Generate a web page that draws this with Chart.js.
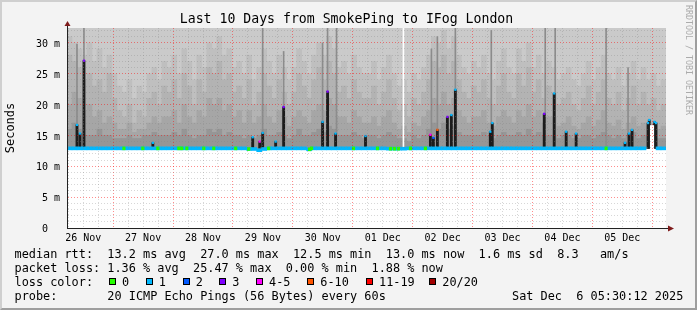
<!DOCTYPE html>
<html>
<head>
<meta charset="utf-8">
<script src="https://cdn.jsdelivr.net/npm/chart.js@4.4.1/dist/chart.umd.min.js"></script>
<style>
  html, body { margin: 0; padding: 0; background: #f3f3f3; }
  #wrap { position: relative; width: 697px; height: 310px; background: #f3f3f3; overflow: hidden;
          font-family: "DejaVu Sans Mono", monospace; color: #000; }
  #wrap canvas { position: absolute; left: 0; top: 0; }
  #frame { position: absolute; left: 0; top: 0; width: 697px; height: 310px; box-sizing: border-box;
           border-top: 2px solid #cfcfcf; border-left: 2px solid #cfcfcf;
           border-right: 2px solid #9e9e9e; border-bottom: 2px solid #9e9e9e; pointer-events: none; }
  #title { position: absolute; left: 0; width: 693px; top: 11px; text-align: center;
           font-size: 13.2px; line-height: 16px; white-space: pre; }
  #side { position: absolute; left: 684px; top: 5px; writing-mode: vertical-rl; font-size: 8.3px;
          line-height: 9px; color: #ababab; white-space: pre; }
  .row { position: absolute; left: 14.5px; height: 14px; font-size: 11.86px; line-height: 14px; white-space: pre; }
  .abs { position: absolute; font-size: 11.86px; line-height: 14px; white-space: pre; }
  .box { position: absolute; width: 5px; height: 5px; border: 1px solid #000; }
</style>
</head>
<body>
<div id="wrap">
  <canvas id="smoke" width="697" height="310"></canvas>
  <div id="title">Last 10 Days from SmokePing to IFog London</div>
  <div id="side">RRDTOOL / TOBI OETIKER</div>
  <div class="row" style="top:247px">median rtt:  13.2 ms avg  27.0 ms max  12.5 ms min  13.0 ms now  1.6 ms sd  8.3   am/s</div>
  <div class="row" style="top:261px">packet loss: 1.36 % avg  25.47 % max  0.00 % min  1.88 % now</div>
  <div class="row" style="top:275px">loss color:</div>
  <div id="lossLegend"></div>
  <div class="row" style="top:289px">probe:       20 ICMP Echo Pings (56 Bytes) every 60s</div>
  <div class="abs" style="top:289px;left:512px">Sat Dec  6 05:30:12 2025</div>
  <div id="frame"></div>
</div>
<script>
// time axis: hours since Nov 26 05:30, 240 h shown; smoke bins are 2 h wide
const dayLabels = ['26 Nov', '27 Nov', '28 Nov', '29 Nov', '30 Nov', '01 Dec', '02 Dec', '03 Dec', '04 Dec', '05 Dec'];
const firstNoon = 6.5;      // hour of Nov 26 12:00
const firstMidnight = 18.5; // hour of Nov 27 00:00

const yTickValues = [0, 5, 10, 15, 20, 25, 30];
const yTickLabels = ['0  ', '5 m', '10 m', '15 m', '20 m', '25 m', '30 m'];

const lossLabels = ['0', '1', '2', '3', '4-5', '6-10', '11-19', '20/20'];
const lossColors = ['#26ff00', '#00b8ff', '#0059ff', '#7e00ff', '#ff00ff', '#ff5500', '#ff0000', '#a10000'];

// smoke layers (ms), one value per 2 h bin
const smokeMax = [
  36, 35, 38, 34, 36, 35, 33, 37, 35, 34,
  35, 33, 34, 36, 35, 37, 34, 35, 36, 33,
  34, 36, 35, 33, 37, 35, 34, 36, 35, 38,
  35, 34, 36, 35, 33, 34, 37, 35, 34, 36,
  35, 37, 34, 36, 35, 33, 36, 35, 37, 34,
  36, 35, 38, 36, 34, 35, 33, 36, 35, 34,
  35, 34, 36, 35, 37, 34, 35, 33, 34, 36,
  35, 36, 34, 37, 36, 38, 35, 37, 34, 35,
  36, 34, 35, 37, 34, 35, 36, 34, 35, 33,
  37, 35, 36, 34, 35, 33, 36, 35, 34, 35,
  34, 35, 33, 36, 35, 34, 37, 35, 33, 34,
  35, 34, 36, 35, 33, 35, 34, 36, 34, 35
];
const smokeHigh = [
  31, 30, 29, 28, 30, 27, 29, 26, 28, 25,
  23, 22, 24, 21, 23, 22, 25, 26, 24, 27,
  26, 28, 25, 29, 27, 24, 28, 26, 30, 29,
  31, 28, 29, 26, 27, 25, 28, 24, 26, 29,
  27, 25, 28, 26, 24, 26, 29, 27, 25, 28,
  30, 28, 31, 29, 26, 27, 25, 28, 26, 25,
  25, 27, 24, 26, 28, 25, 23, 24, 22, 25,
  24, 26, 28, 31, 30, 32, 29, 31, 28, 26,
  25, 27, 26, 28, 25, 24, 27, 29, 26, 25,
  29, 27, 30, 26, 28, 25, 27, 26, 24, 25,
  26, 24, 23, 25, 27, 24, 26, 28, 25, 24,
  26, 23, 25, 27, 24, 26, 24, 25, 23, 24
];
const smokeUpper = [
  28, 27, 26, 24, 25, 23, 24, 22, 25, 21,
  19, 18, 20, 17, 19, 18, 21, 22, 20, 23,
  22, 24, 21, 25, 23, 20, 24, 22, 26, 25,
  27, 24, 25, 22, 23, 21, 24, 20, 22, 25,
  23, 21, 24, 22, 20, 22, 25, 23, 21, 24,
  26, 24, 27, 25, 22, 23, 21, 24, 22, 21,
  21, 23, 20, 22, 24, 21, 19, 20, 18, 21,
  20, 22, 24, 27, 26, 28, 25, 27, 24, 22,
  21, 23, 22, 24, 21, 20, 23, 25, 22, 21,
  25, 23, 26, 22, 24, 21, 23, 22, 20, 21,
  22, 20, 19, 21, 23, 20, 22, 24, 21, 20,
  22, 19, 21, 23, 20, 22, 20, 21, 19, 20
];
const smokeMid = [
  20, 22, 21, 19, 20, 18, 19, 17, 18, 17,
  16, 16, 17, 15.5, 16, 16, 17, 18, 17, 18,
  18, 19, 17, 20, 18, 17, 19, 18, 21, 20,
  21, 19, 20, 18, 19, 17, 19, 17, 18, 20,
  18, 17, 19, 18, 16.5, 18, 19, 18, 17, 19,
  20, 19, 21, 20, 18, 18, 17, 19, 18, 17,
  17, 18, 16.5, 18, 19, 17, 16, 16.5, 15.5, 17,
  16.5, 18, 19, 21, 20, 22, 20, 21, 19, 18,
  17, 18, 18, 19, 17, 16.5, 18, 19, 18, 17,
  19, 18, 20, 18, 19, 17, 18, 18, 16.5, 17,
  18, 16.5, 16, 17, 18, 16.5, 17.5, 19, 17, 16.5,
  17.5, 16, 17, 18, 16.5, 17, 16.5, 17, 16, 16.5
];
const smokeLow = [
  16, 17, 16, 15, 15, 15, 16, 15, 15, 14.5,
  14.5, 14.5, 15, 14.5, 14.5, 15, 15, 15.5, 15, 15,
  15, 15.5, 15, 16, 15, 14.5, 15, 15, 16, 15.5,
  16, 15, 15.5, 15, 15, 14.5, 15, 14.5, 15, 16,
  15, 15, 15.5, 15, 14.5, 15, 16, 15, 15, 15.5,
  16, 15.5, 16.5, 16, 15, 15, 15, 15.5, 15, 14.5,
  15, 15, 14.5, 15, 15.5, 15, 14.5, 14.5, 14, 15,
  14.5, 15, 16, 17, 16, 17, 16, 16.5, 15.5, 15,
  15, 15, 15, 15.5, 15, 14.5, 15, 15.5, 15, 15,
  15.5, 15, 16, 15, 15.5, 15, 15, 15, 14.5, 15,
  15, 14.5, 14.5, 15, 15, 14.5, 15, 15.5, 15, 14.5,
  15, 14.5, 15, 15.5, 14.5, 15, 15, 15, 14.5, 14.5
];
const smokeFloor = 12.9;

// median rtt per 2 h bin (ms), null = no data
const medianRtt = [
  12.9, 12.9, 12.9, 12.9, 12.9, 12.9, 12.9, 12.9, 12.9, 12.9,
  12.9, 12.9, 12.9, 12.9, 12.9, 12.9, 12.9, 12.9, 12.9, 12.9,
  12.9, 12.9, 12.9, 12.9, 12.9, 12.9, 12.9, 12.9, 12.9, 12.9,
  12.9, 12.9, 12.9, 12.9, 12.9, 12.9, 12.8, 12.8, 12.6, 12.8,
  12.9, 12.9, 12.9, 12.9, 12.9, 12.9, 12.9, 12.9, 12.75, 12.9,
  12.9, 12.9, 12.9, 12.9, 12.9, 12.9, 12.9, 12.9, 12.9, 12.9,
  12.9, 12.9, 12.9, 12.9, 12.85, 12.85, 12.85, 12.85, 12.9, 12.9,
  12.9, 12.9, 12.9, 12.9, 12.9, 12.9, 12.9, 12.9, 12.9, 12.9,
  12.9, 12.9, 12.9, 12.9, 12.9, 12.9, 12.9, 12.9, 12.9, 12.9,
  12.9, 12.9, 12.9, 12.9, 12.9, 12.9, 12.9, 12.9, 12.9, 12.9,
  12.9, 12.9, 12.9, 12.9, 12.9, 12.9, 12.9, 12.9, 12.9, 12.9,
  12.9, 12.9, 12.9, 12.9, 12.9, 12.9, null, null, 12.9, 12.9
];
// hours where the median was measured with zero loss
const lossZeroHours = [22.8, 30.4, 36.4, 44.8, 46, 48, 54.8, 58.8, 67.6, 72.8, 80.8, 97.2, 98,
  114.8, 124.4, 129.6, 131.2, 132.8, 137.6, 143.6, 216];

// dense high-latency spikes
const spikeHours = [4.0, 5.2, 6.8, 34.4, 74.4, 77.2, 78.4, 83.6, 86.8, 102.4, 104.4, 107.6, 119.6,
  145.6, 146.8, 148.4, 152.4, 154.0, 155.6, 169.6, 170.4, 191.2, 195.2, 200.0, 204.0,
  223.6, 225.2, 226.4, 232.8, 233.3, 235.4, 236.0];
const spikeTops = [16.7, 15.3, 27.1, 13.8, 14.7, 14.0, 15.4, 14.0, 19.6, 17.2, 22.1, 15.3, 14.9,
  15.1, 14.6, 15.9, 18.0, 18.3, 22.4, 15.6, 17.0, 18.5, 21.8, 15.6, 15.3,
  13.8, 15.3, 15.9, 17.0, 17.5, 17.2, 17.0];
const spikeLoss = [1, 1, 3, 1, 1, 4, 1, 1, 3, 1, 3, 1, 1,
  4, 2, 5, 3, 1, 1, 1, 1, 3, 1, 1, 1,
  1, 1, 1, 1, 1, 1, 1];

// single-ping outliers reaching far up
const streakHours = [4.0, 6.8, 78.4, 86.8, 102.4, 104.4, 108.0, 146.0, 148.4, 155.6, 170.0, 191.6, 195.6, 216.0, 224.8];
const streakTops = [29.8, 34, 34, 28.6, 30, 34, 34, 29, 31, 34, 32, 34, 34, 34, 26];

// data gaps (hours) and the height they stay empty to
const gapFrom = [134.6, 233.7];
const gapTo = [135.0, 235.1];
const gapTop = [34, 16.6];

// ---- legend boxes
const legendBoxX = [109, 145.7, 182.7, 219.3, 256, 307.3, 366, 429.3];
const legend = document.getElementById('lossLegend');
lossLabels.forEach((lab, i) => {
  const b = document.createElement('div');
  b.className = 'box';
  b.style.left = legendBoxX[i] + 'px';
  b.style.top = '277.5px';
  b.style.background = lossColors[i];
  legend.appendChild(b);
  const t = document.createElement('div');
  t.className = 'abs';
  t.style.left = (legendBoxX[i] + 13) + 'px';
  t.style.top = '275px';
  t.textContent = lab;
  legend.appendChild(t);
});

// ---- chart
const binX = i => i * 2 + 1;
const pxPerHour = 599 / 240;
const band = 0.24;

function layer(values, color) {
  return {
    data: values.map((v, i) => ({ x: binX(i), y: [smokeFloor, v] })),
    backgroundColor: color, barThickness: 5, grouped: false, borderWidth: 0
  };
}

const medianData = [];
medianRtt.forEach((m, i) => { if (m !== null) medianData.push({ x: binX(i), y: [m - band, m + band] }); });

const greenData = lossZeroHours.map(h => {
  const m = medianRtt[Math.floor(h / 2)];
  return { x: h, y: [m - band, m + band] };
});

const gapSets = gapFrom.map((f, i) => ({
  data: [{ x: (f + gapTo[i]) / 2, y: [12.3, gapTop[i]] }],
  backgroundColor: '#ffffff', barThickness: Math.max(1, (gapTo[i] - f) * pxPerHour),
  grouped: false, borderWidth: 0
}));

const gridHours = [];
for (let h = firstMidnight - 18; h < 240; h += 6) gridHours.push(h);
const yGrid = [];
for (let v = 0; v <= 32; v++) yGrid.push(v);

const dotted = [1, 2];
const majorColor = 'rgba(255,0,0,0.45)';
const minorColor = 'rgba(130,130,130,0.32)';
const monoFont = { family: 'DejaVu Sans Mono', size: 10 };

const plotBackground = {
  id: 'plotBackground',
  beforeDraw(chart) {
    const { ctx, chartArea: a } = chart;
    ctx.save();
    ctx.fillStyle = '#ffffff';
    ctx.fillRect(a.left, a.top, a.right - a.left, a.bottom - a.top);
    ctx.restore();
  }
};

const axisArrows = {
  id: 'axisArrows',
  afterDraw(chart) {
    const { ctx, chartArea: a } = chart;
    ctx.save();
    ctx.strokeStyle = '#222';
    ctx.lineWidth = 1;
    ctx.beginPath();
    ctx.moveTo(a.left + 0.5, a.top); ctx.lineTo(a.left + 0.5, a.top - 3);
    ctx.moveTo(a.right, a.bottom + 0.5); ctx.lineTo(a.right + 3, a.bottom + 0.5);
    ctx.stroke();
    ctx.fillStyle = '#7f1c1c';
    ctx.beginPath();
    ctx.moveTo(a.left - 2.5, a.top - 2); ctx.lineTo(a.left + 3.5, a.top - 2); ctx.lineTo(a.left + 0.5, a.top - 7);
    ctx.closePath(); ctx.fill();
    ctx.beginPath();
    ctx.moveTo(a.right + 2, a.bottom - 2.5); ctx.lineTo(a.right + 2, a.bottom + 3.5); ctx.lineTo(a.right + 8, a.bottom + 0.5);
    ctx.closePath(); ctx.fill();
    ctx.restore();
  }
};

new Chart(document.getElementById('smoke'), {
  type: 'bar',
  data: {
    datasets: [
      {
        type: 'line', showLine: false,
        data: spikeHours.map((h, i) => ({ x: h, y: spikeTops[i] })),
        pointStyle: 'rect', pointRadius: 1.6, pointBorderWidth: 0,
        pointBackgroundColor: spikeLoss.map(k => lossColors[k])
      },
      { data: greenData, backgroundColor: lossColors[0], barThickness: 2.5, grouped: false, borderWidth: 0 },
      { data: medianData, backgroundColor: lossColors[1], barThickness: 5, grouped: false, borderWidth: 0 },
      ...gapSets,
      {
        data: spikeHours.map((h, i) => ({ x: h, y: [smokeFloor, spikeTops[i]] })),
        backgroundColor: '#1c1c1c', barThickness: 2.2, grouped: false, borderWidth: 0
      },
      {
        data: streakHours.map((h, i) => ({ x: h, y: [smokeFloor, streakTops[i]] })),
        backgroundColor: '#8c8c8c', barThickness: 1, grouped: false, borderWidth: 0
      },
      layer(smokeLow, '#969696'),
      layer(smokeMid, '#a6a6a6'),
      layer(smokeUpper, '#b3b3b3'),
      layer(smokeHigh, '#bfbfbf'),
      layer(smokeMax, '#cacaca')
    ]
  },
  options: {
    responsive: false,
    devicePixelRatio: 1,
    animation: false,
    layout: { padding: { top: 28, right: 31, left: 0, bottom: 62 } },
    plugins: { legend: { display: false }, tooltip: { enabled: false }, title: { display: false } },
    scales: {
      x: {
        type: 'linear', min: 0, max: 240, offset: false,
        afterFit: s => { s.height = 20; },
        afterBuildTicks: s => { s.ticks = gridHours.map(v => ({ value: v })); },
        grid: {
          offset: false, drawTicks: false, z: 1,
          color: c => ((c.tick.value - firstMidnight) % 24 === 0 ? majorColor : minorColor)
        },
        border: { color: '#222', dash: dotted, z: 2 },
        ticks: {
          autoSkip: false, maxRotation: 0, padding: 4, font: monoFont, color: '#000',
          callback: v => ((v - firstNoon) % 24 === 0 ? dayLabels[(v - firstNoon) / 24] : '')
        }
      },
      y: {
        type: 'linear', min: 0, max: 32.4,
        afterFit: s => { s.width = 67; },
        afterBuildTicks: s => { s.ticks = yGrid.map(v => ({ value: v })); },
        grid: {
          drawTicks: false, z: 1,
          color: c => (c.tick.value === 0 ? 'rgba(0,0,0,0)' : (c.tick.value % 5 === 0 ? majorColor : minorColor))
        },
        border: { color: '#222', dash: dotted, z: 2 },
        ticks: {
          autoSkip: false, padding: 7, labelOffset: 1.5, font: monoFont, color: '#000',
          callback: v => { const k = yTickValues.indexOf(v); return k >= 0 ? yTickLabels[k] : ''; }
        },
        title: {
          display: true, text: 'Seconds', color: '#000',
          font: { family: 'DejaVu Sans Mono', size: 12 }, padding: { top: 4, bottom: 0 }
        }
      }
    }
  },
  plugins: [plotBackground, axisArrows]
});
</script>
</body>
</html>
